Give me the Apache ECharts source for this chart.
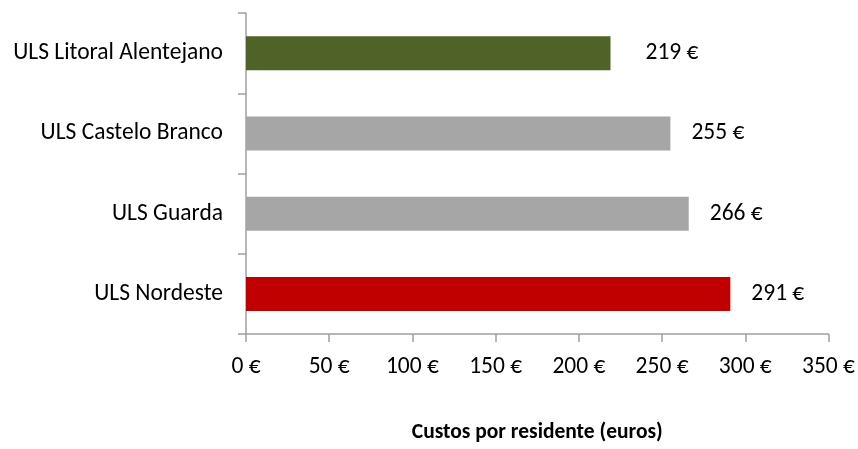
<!DOCTYPE html>
<html><head><meta charset="utf-8">
<script src="https://cdn.jsdelivr.net/npm/echarts@6/dist/echarts.min.js"></script>
<style>html,body{margin:0;padding:0;background:#fff}#c{width:858px;height:449px}</style>
</head><body><div id="c"></div>
<script>
var categories = ["ULS Litoral Alentejano", "ULS Castelo Branco", "ULS Guarda", "ULS Nordeste"];
var values = [219, 255, 266, 291];
var barColors = ["#4F6228", "#A6A6A6", "#A6A6A6", "#C00000"];
var xTicks = [0, 50, 100, 150, 200, 250, 300, 350];
var axisTitle = "Custos por residente (euros)";

var chart = echarts.init(document.getElementById('c'), null, {renderer: 'canvas'});
var font = "Carlito, Lato, sans-serif";
chart.setOption({
  animation: false,
  grid: {left: 246, right: 28, top: 13, bottom: 110, containLabel: false},
  xAxis: {
    type: 'value', min: xTicks[0], max: xTicks[xTicks.length-1], interval: 50,
    name: axisTitle, nameLocation: 'middle', nameGap: 88,
    nameTextStyle: {fontFamily: font, fontSize: 21.5, fontWeight: 'bold', color: '#000'},
    axisLine: {show: true, lineStyle: {color: '#A0A0A0', width: 1.5}},
    axisTick: {show: true, length: 8, lineStyle: {color: '#A0A0A0', width: 1.5}},
    splitLine: {show: false},
    axisLabel: {margin: 21, fontFamily: font, fontSize: 23.5, color: '#000', formatter: function(v){return v + ' €';}}
  },
  yAxis: {
    type: 'category', data: categories, inverse: true,
    axisLine: {show: true, lineStyle: {color: '#A0A0A0', width: 1.5}},
    axisTick: {show: true, length: 8, lineStyle: {color: '#A0A0A0', width: 1.5}},
    axisLabel: {margin: 23, fontFamily: font, fontSize: 23.5, color: '#000'}
  },
  series: [{
    type: 'bar', barWidth: 34,
    data: values.map(function(v, i){
      var d = {value: v, itemStyle: {color: barColors[i]}};
      if (i === 0) d.label = {distance: 35};
      return d;
    }),
    label: {show: true, position: 'right', distance: 21, fontFamily: font, fontSize: 23.5, color: '#000',
      formatter: function(p){ return p.value + ' €'; }}
  }]
});
</script></body></html>
